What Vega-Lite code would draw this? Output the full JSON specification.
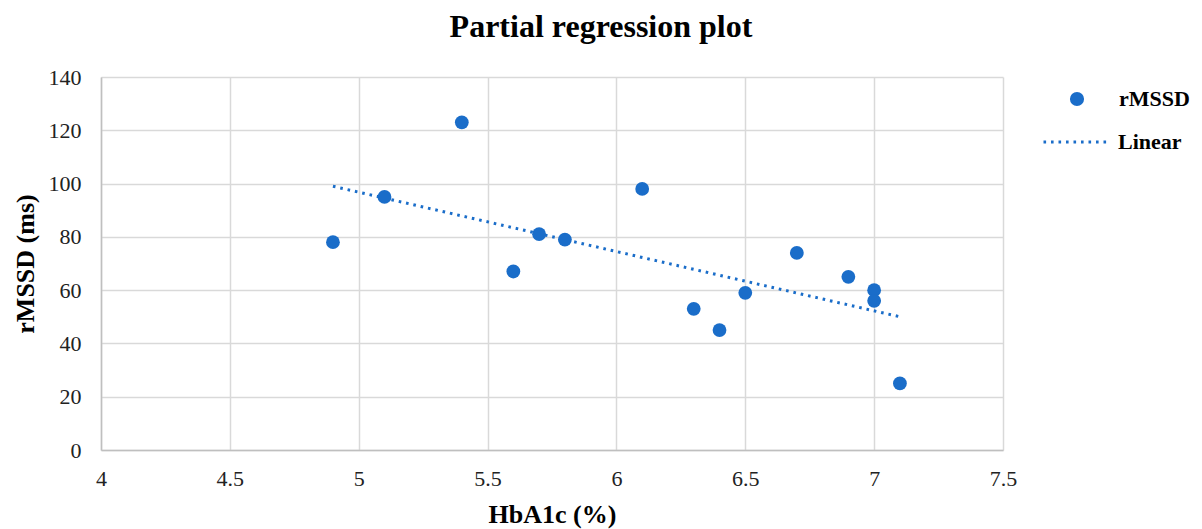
{
  "$schema": "https://vega.github.io/schema/vega-lite/v6.json",
  "width": 902,
  "height": 373,
  "autosize": {"type": "none"},
  "padding": {"left": 101, "top": 77, "right": 199, "bottom": 79},
  "background": "white",
  "title": {
    "text": "Partial regression plot",
    "font": "Liberation Serif",
    "fontSize": 32,
    "fontWeight": "bold",
    "color": "#000000",
    "anchor": "middle",
    "frame": "bounds",
    "offset": 22
  },
  "config": {
    "view": {"stroke": null},
    "axis": {
      "labelFont": "Liberation Serif",
      "labelFontSize": 22,
      "labelColor": "#222222",
      "titleFont": "Liberation Serif",
      "titleFontSize": 26,
      "titleFontWeight": "bold",
      "titleColor": "#000000",
      "gridColor": "#d9d9d9",
      "gridWidth": 1.5,
      "domainColor": "#bfbfbf",
      "domainWidth": 1.5,
      "ticks": false
    },
    "legend": {
      "labelFont": "Liberation Serif",
      "labelFontSize": 22,
      "labelFontWeight": "bold",
      "labelColor": "#000000",
      "padding": 0
    }
  },
  "datasets": {
    "points": [
      {"hba1c": 4.9, "rmssd": 78, "series": "rMSSD"},
      {"hba1c": 5.1, "rmssd": 95, "series": "rMSSD"},
      {"hba1c": 5.4, "rmssd": 123, "series": "rMSSD"},
      {"hba1c": 5.6, "rmssd": 67, "series": "rMSSD"},
      {"hba1c": 5.7, "rmssd": 81, "series": "rMSSD"},
      {"hba1c": 5.8, "rmssd": 79, "series": "rMSSD"},
      {"hba1c": 6.1, "rmssd": 98, "series": "rMSSD"},
      {"hba1c": 6.3, "rmssd": 53, "series": "rMSSD"},
      {"hba1c": 6.4, "rmssd": 45, "series": "rMSSD"},
      {"hba1c": 6.5, "rmssd": 59, "series": "rMSSD"},
      {"hba1c": 6.7, "rmssd": 74, "series": "rMSSD"},
      {"hba1c": 6.9, "rmssd": 65, "series": "rMSSD"},
      {"hba1c": 7.0, "rmssd": 60, "series": "rMSSD"},
      {"hba1c": 7.0, "rmssd": 56, "series": "rMSSD"},
      {"hba1c": 7.1, "rmssd": 25, "series": "rMSSD"}
    ],
    "trend": [
      {"hba1c": 4.9, "rmssd": 99, "fit": "Linear"},
      {"hba1c": 7.1, "rmssd": 50, "fit": "Linear"}
    ]
  },
  "encoding": {
    "x": {
      "field": "hba1c",
      "type": "quantitative",
      "scale": {"domain": [4, 7.5], "nice": false, "zero": false},
      "axis": {"values": [4, 4.5, 5, 5.5, 6, 6.5, 7, 7.5], "labelExpr": "datum.value + ''", "title": "HbA1c (%)", "labelPadding": 18, "titlePadding": 12, "domain": true, "labelFlush": false}
    },
    "y": {
      "field": "rmssd",
      "type": "quantitative",
      "scale": {"domain": [0, 140], "nice": false},
      "axis": {"values": [0, 20, 40, 60, 80, 100, 120, 140], "title": "rMSSD (ms)", "labelPadding": 20, "titlePadding": 10}
    }
  },
  "layer": [
    {
      "data": {"name": "trend"},
      "mark": {"type": "line", "color": "#1a6dc9", "strokeWidth": 3},
      "encoding": {
        "strokeDash": {
          "field": "fit",
          "type": "nominal",
          "scale": {"domain": ["Linear"], "range": [[2.6, 4.9]]},
          "legend": {
            "orient": "none",
            "legendX": 941,
            "legendY": 31,
            "title": null,
            "symbolType": "stroke",
            "symbolSize": 4225,
            "symbolStrokeWidth": 3,
            "symbolStrokeColor": "#1a6dc9",
            "symbolOpacity": 1,
            "labelOffset": 8
          }
        }
      }
    },
    {
      "data": {"name": "points"},
      "mark": {"type": "point", "filled": true, "opacity": 1, "size": 190},
      "encoding": {
        "color": {
          "field": "series",
          "type": "nominal",
          "scale": {"domain": ["rMSSD"], "range": ["#1a6dc9"]},
          "legend": {
            "orient": "none",
            "legendX": 965,
            "legendY": 11,
            "title": null,
            "symbolType": "circle",
            "symbolSize": 200,
            "symbolOpacity": 1,
            "labelOffset": 31
          }
        }
      }
    }
  ]
}
